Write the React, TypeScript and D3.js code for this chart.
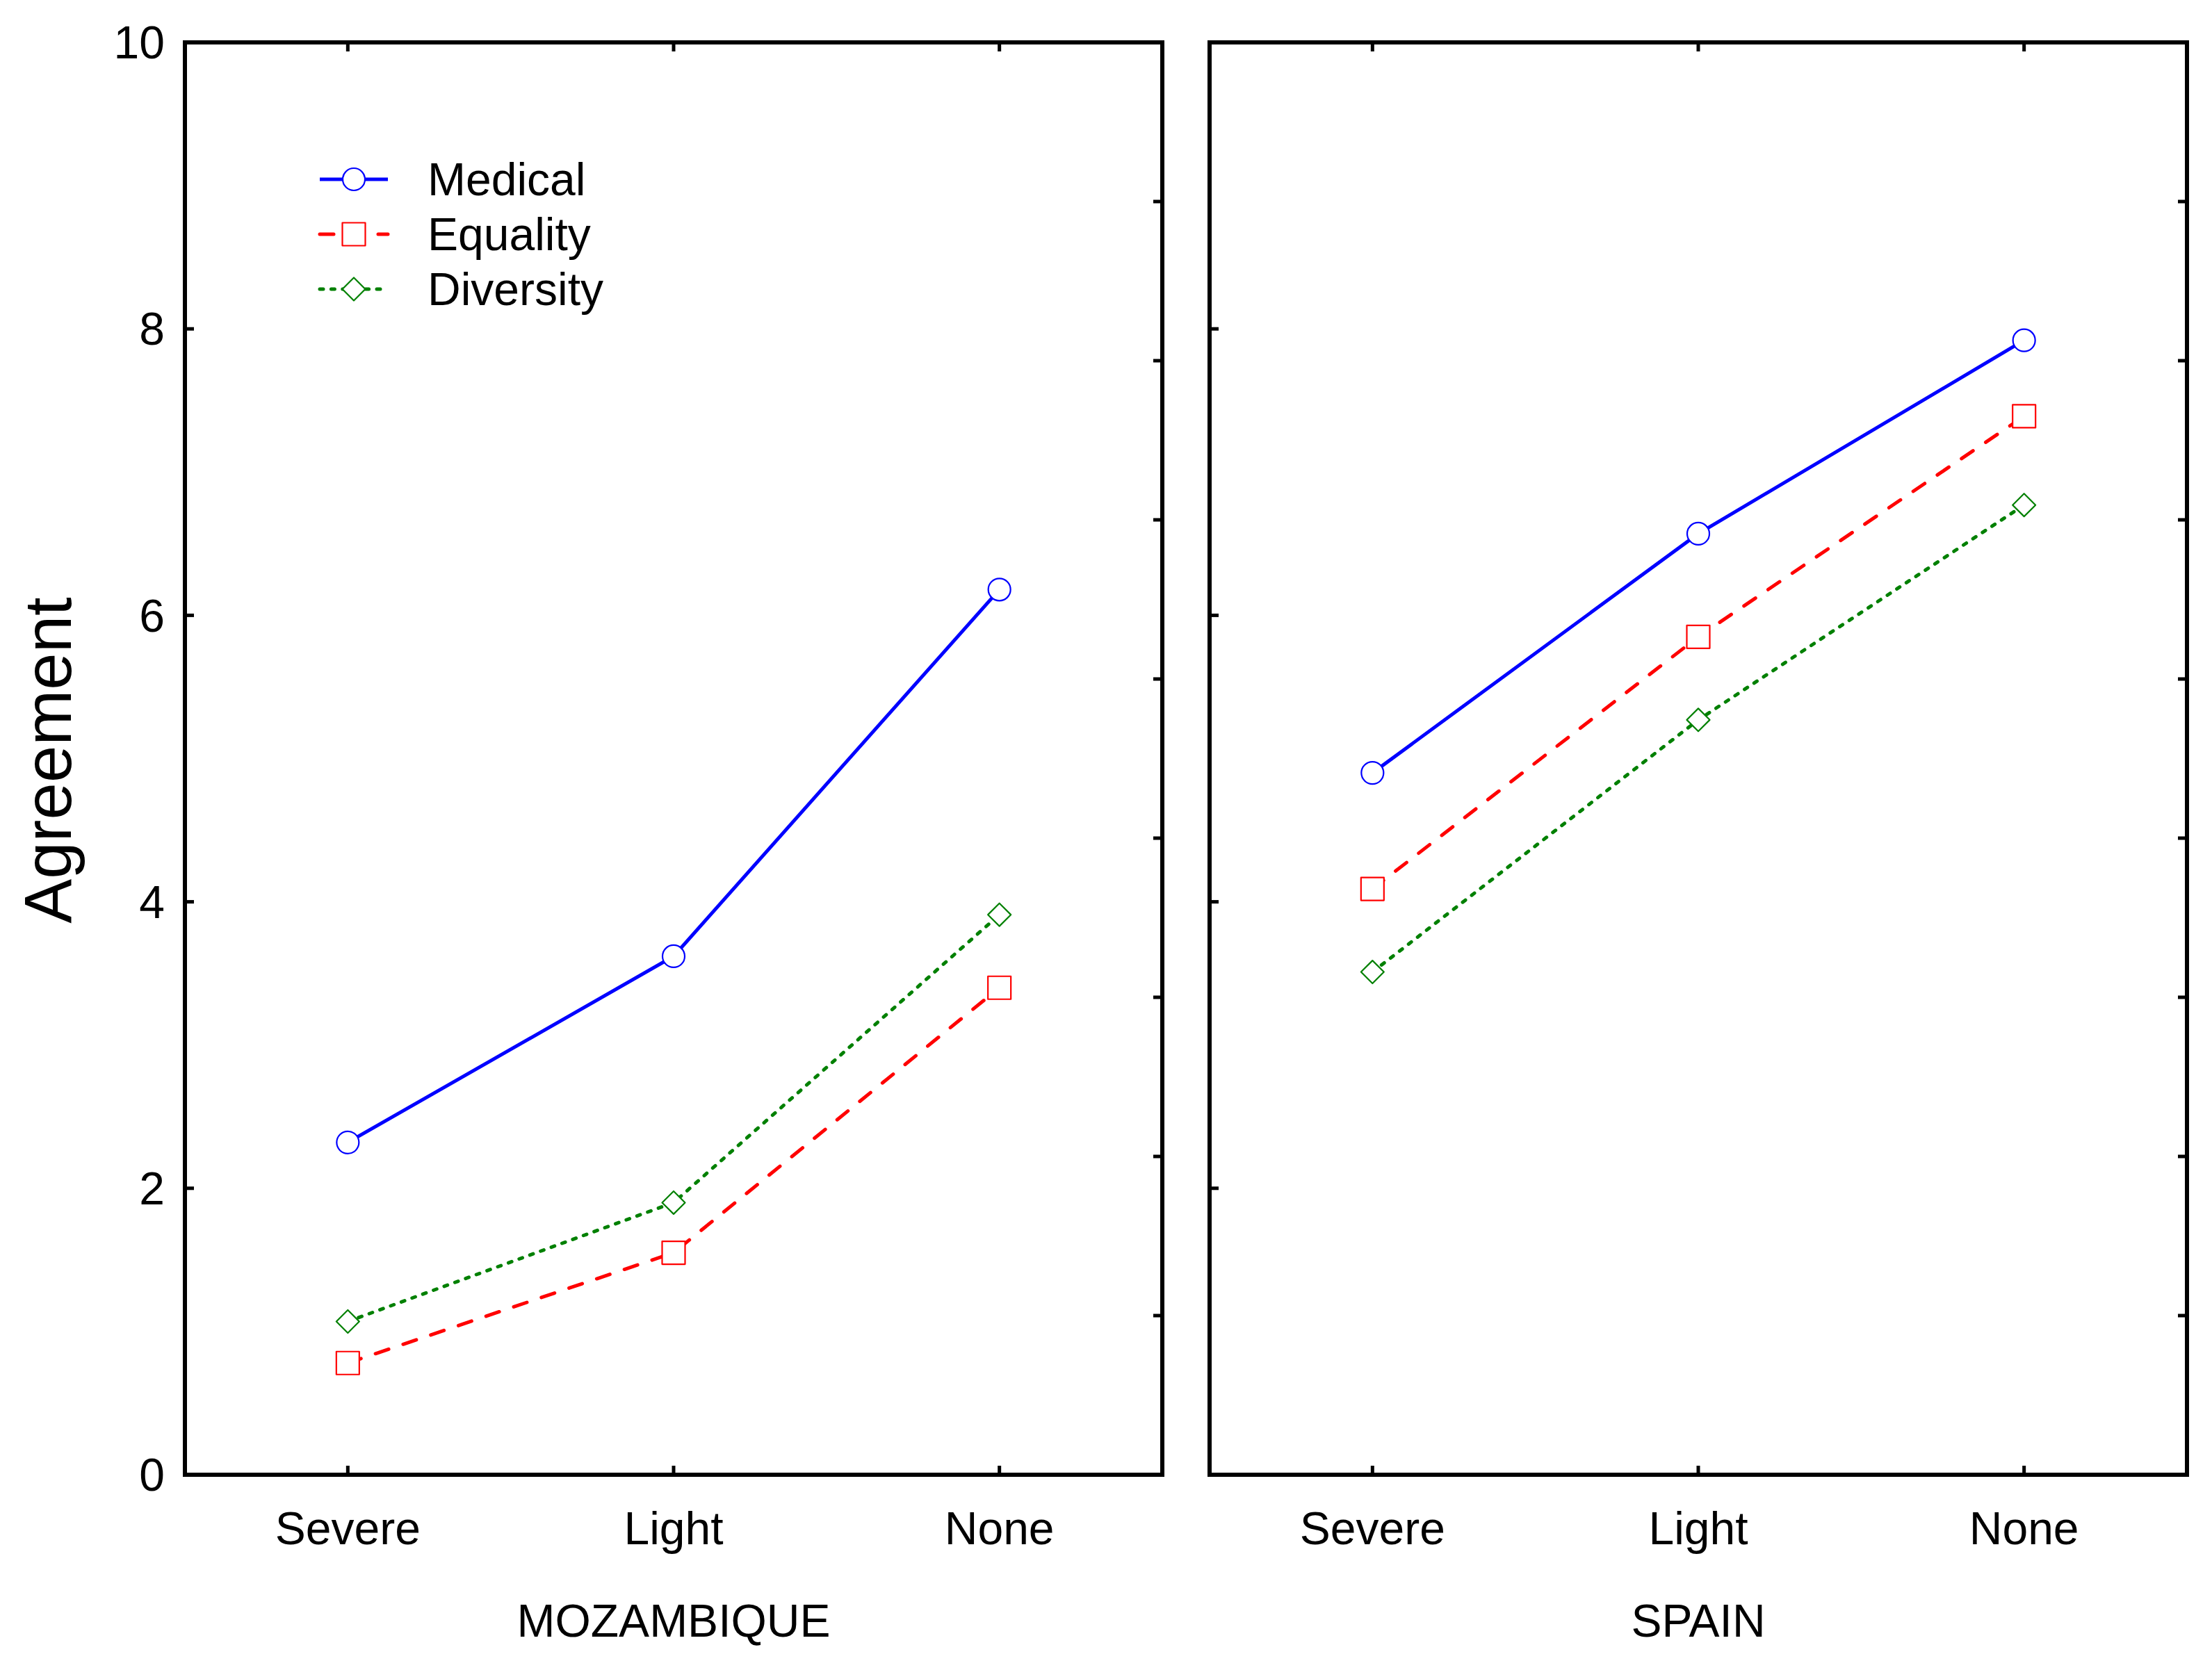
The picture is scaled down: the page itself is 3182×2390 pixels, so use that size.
import * as d3 from "d3";

// factor levels and panels
const levels = ["Severe", "Light", "None"];
const countries = ["MOZAMBIQUE", "SPAIN"];
const seriesNames = ["Medical", "Equality", "Diversity"];

// mean agreement per level
const mozambiqueMedical = [2.32, 3.62, 6.18];
const mozambiqueEquality = [0.78, 1.55, 3.4];
const mozambiqueDiversity = [1.07, 1.9, 3.91];
const spainMedical = [4.9, 6.57, 7.92];
const spainEquality = [4.09, 5.85, 7.39];
const spainDiversity = [3.51, 5.27, 6.77];

const yTicks = [0, 2, 4, 6, 8, 10];
const yLabelTicks = [2, 4, 6, 8];
// right-hand side of each frame carries ticks at ninths of the range
const rightTicks = d3.range(1, 9).map((i) => (i * 10) / 9);

const W = 3182;
const H = 2390;
const top = 61;
const bottom = 2122;
const panelLefts = [266, 1740];
const panelWidth = 1406;
const font = "'Liberation Sans', Arial, Helvetica, sans-serif";

const styles: Record<string, { color: string; dash: string | null; shape: string }> = {
  Medical: { color: "#0000ff", dash: null, shape: "circle" },
  Equality: { color: "#ff0000", dash: "20 22", shape: "square" },
  Diversity: { color: "#008000", dash: "5 11.4", shape: "diamond" },
};

const panelData: Record<string, Record<string, number[]>> = {
  MOZAMBIQUE: {
    Medical: mozambiqueMedical,
    Equality: mozambiqueEquality,
    Diversity: mozambiqueDiversity,
  },
  SPAIN: {
    Medical: spainMedical,
    Equality: spainEquality,
    Diversity: spainDiversity,
  },
};

const y = d3.scaleLinear().domain([0, 10]).range([bottom, top]);

const markerPath = (shape: string) => {
  if (shape === "circle") return d3.symbol(d3.symbolCircle, Math.PI * 16 * 16)()!;
  if (shape === "square") return d3.symbol(d3.symbolSquare, 33 * 33)()!;
  return d3.symbol(d3.symbolSquare, 23.3 * 23.3)()!;
};

const Marker = ({ x, yy, name }: { x: number; yy: number; name: string }) => {
  const s = styles[name];
  const rot = s.shape === "diamond" ? " rotate(45)" : "";
  return (
    <path
      d={markerPath(s.shape)}
      transform={`translate(${x},${yy})${rot}`}
      fill="#ffffff"
      stroke={s.color}
      strokeWidth={2.2}
      strokeLinejoin="round"
    />
  );
};

const Panel = ({ country, left }: { country: string; left: number }) => {
  const right = left + panelWidth;
  const x = d3.scalePoint<string>().domain(levels).range([left, right]).padding(0.5);
  const line = d3
    .line<number>()
    .x((_, i) => x(levels[i])!)
    .y((d) => y(d));
  const tick = 13;

  return (
    <g>
      {seriesNames.map((name) => {
        const s = styles[name];
        return (
          <path
            key={name}
            d={line(panelData[country][name])!}
            fill="none"
            stroke={s.color}
            strokeWidth={5}
            strokeDasharray={s.dash ?? undefined}
            strokeLinecap={s.dash ? "round" : "butt"}
          />
        );
      })}
      {seriesNames.map((name) =>
        panelData[country][name].map((v, i) => (
          <Marker key={name + i} x={x(levels[i])!} yy={y(v)} name={name} />
        ))
      )}

      {/* inward ticks */}
      {yLabelTicks.map((t) => (
        <line key={"l" + t} x1={left} x2={left + tick} y1={y(t)} y2={y(t)} stroke="#000" strokeWidth={5} />
      ))}
      {rightTicks.map((t) => (
        <line key={"r" + t} x1={right} x2={right - tick} y1={y(t)} y2={y(t)} stroke="#000" strokeWidth={5} />
      ))}
      {levels.map((l) => (
        <g key={"t" + l}>
          <line x1={x(l)} x2={x(l)} y1={top} y2={top + tick} stroke="#000" strokeWidth={5} />
          <line x1={x(l)} x2={x(l)} y1={bottom} y2={bottom - tick} stroke="#000" strokeWidth={5} />
        </g>
      ))}
      <rect x={left} y={top} width={panelWidth} height={bottom - top} fill="none" stroke="#000" strokeWidth={6} />

      {levels.map((l) => (
        <text key={"c" + l} x={x(l)} y={2222} textAnchor="middle" fontSize={66}>
          {l}
        </text>
      ))}
      <text x={(left + right) / 2} y={2355} textAnchor="middle" fontSize={66}>
        {country}
      </text>
    </g>
  );
};

const Legend = () => {
  const rows = [258, 337, 416];
  return (
    <g>
      {seriesNames.map((name, i) => {
        const s = styles[name];
        return (
          <g key={name}>
            <line
              x1={460}
              x2={558}
              y1={rows[i]}
              y2={rows[i]}
              stroke={s.color}
              strokeWidth={5}
              strokeDasharray={s.dash ?? undefined}
              strokeLinecap={s.dash ? "round" : "butt"}
            />
            <Marker x={509} yy={rows[i]} name={name} />
            <text x={615} y={rows[i]} dy="0.35em" fontSize={66}>
              {name}
            </text>
          </g>
        );
      })}
    </g>
  );
};

export default function App() {
  return (
    <svg
      width={W}
      height={H}
      viewBox={`0 0 ${W} ${H}`}
      style={{ position: "absolute", left: 0, top: 0, background: "#fff" }}
      fontFamily={font}
    >
      <rect width={W} height={H} fill="#fff" />
      {yTicks.map((t) => (
        <text key={t} x={237} y={y(t)} dy="0.35em" textAnchor="end" fontSize={66}>
          {t}
        </text>
      ))}
      <text transform="translate(102,1094) rotate(-90)" textAnchor="middle" fontSize={96}>
        Agreement
      </text>
      {countries.map((c, i) => (
        <Panel key={c} country={c} left={panelLefts[i]} />
      ))}
      <Legend />
    </svg>
  );
}
